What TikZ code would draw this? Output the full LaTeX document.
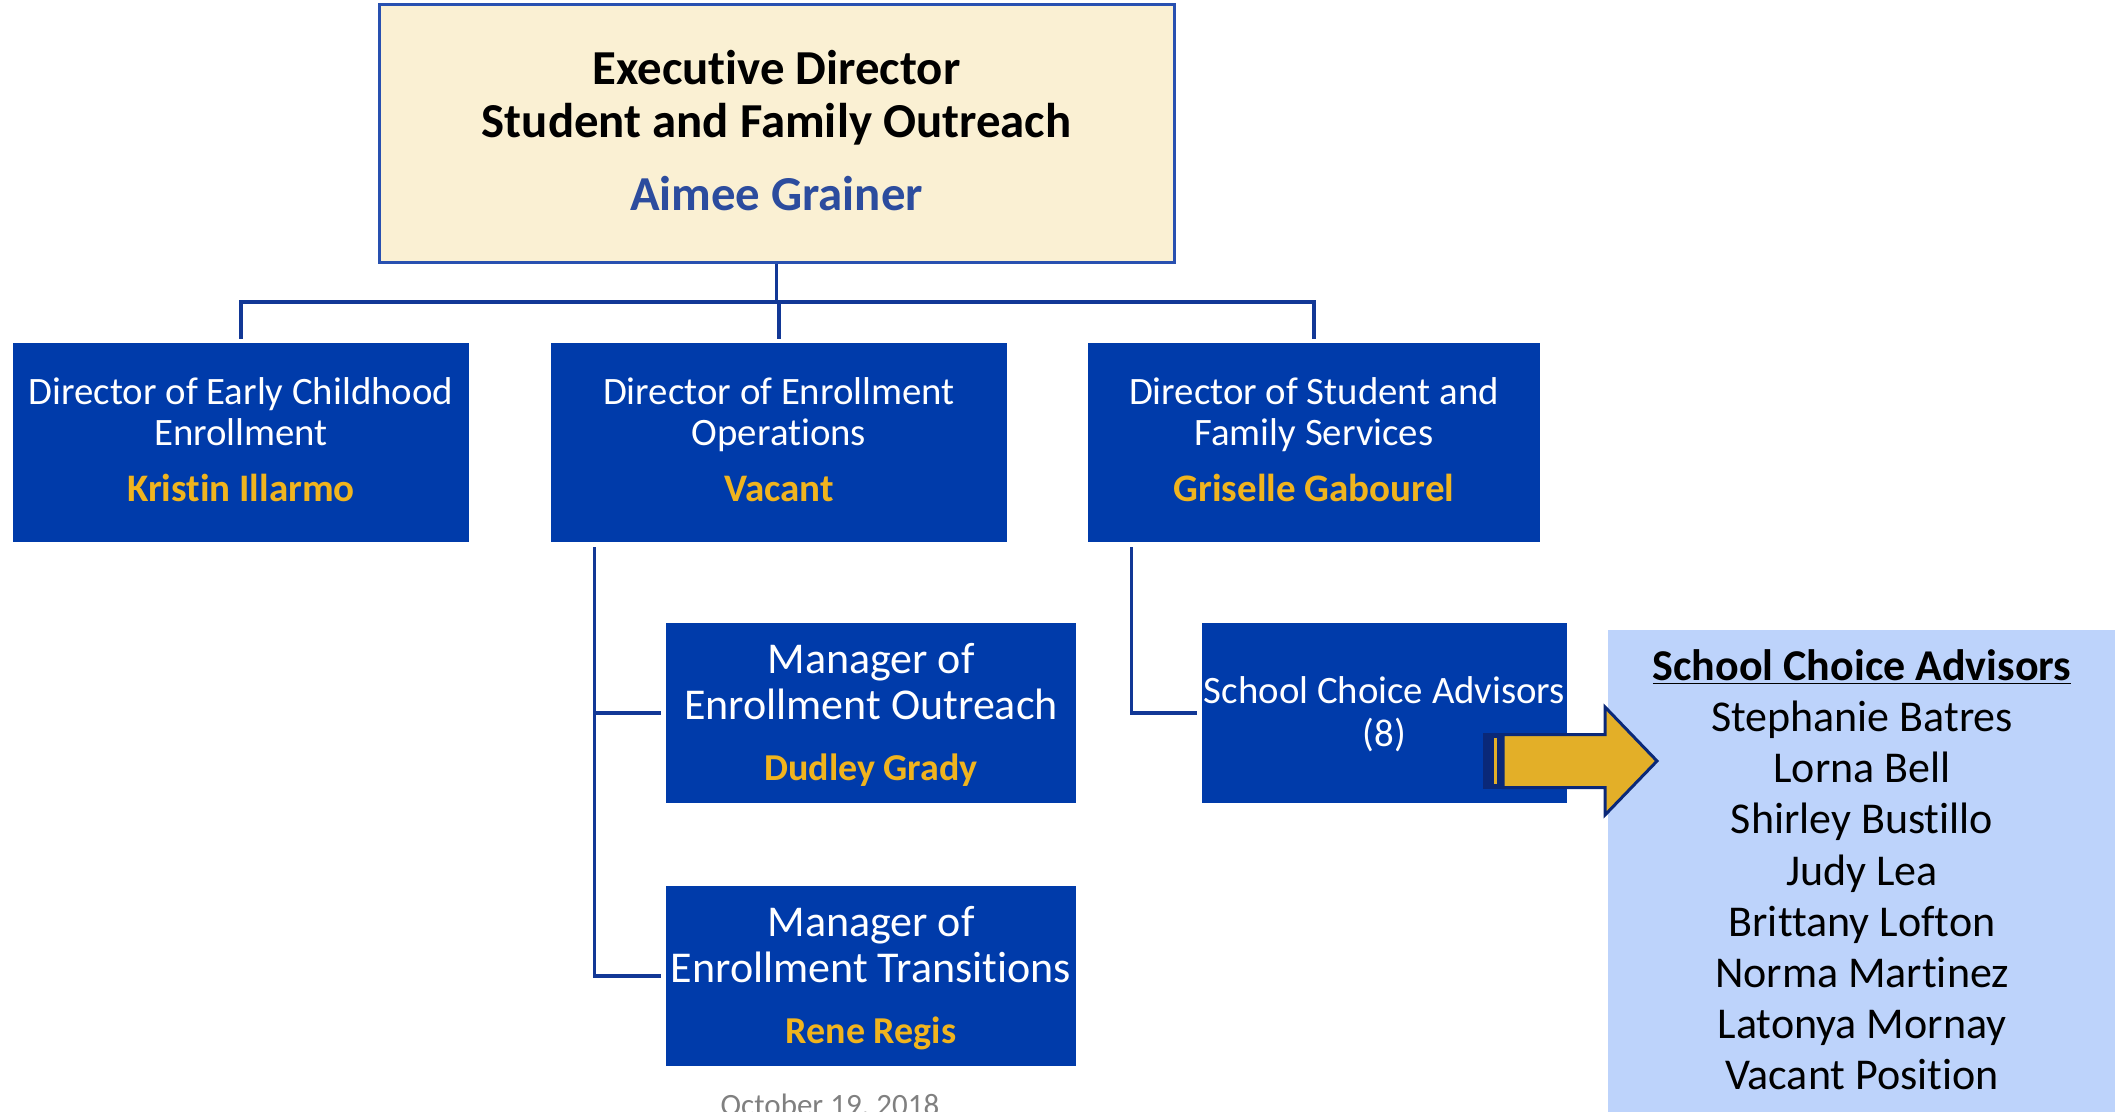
\documentclass[tikz,border=0pt]{standalone}
\usepackage{fontspec}
\setmainfont{Carlito}[Ligatures=NoCommon]
\definecolor{dirblue}{RGB}{0,59,170}
\definecolor{namegold}{RGB}{240,180,30}
\definecolor{cream}{RGB}{250,240,211}
\definecolor{framblue}{RGB}{40,80,176}
\definecolor{execname}{RGB}{44,76,158}
\definecolor{connblue}{RGB}{18,56,150}
\definecolor{listblue}{RGB}{189,211,251}
\definecolor{arrowgold}{RGB}{227,175,40}
\definecolor{arrownavy}{RGB}{10,40,120}
\definecolor{dategray}{RGB}{128,128,128}
\begin{document}
\begin{tikzpicture}[x=0.5pt,y=-0.5pt,
  box/.style={draw=none,fill=dirblue,inner sep=0pt},
  conn/.style={draw=connblue,line width=1.8pt},
  lbl/.style={anchor=base,inner sep=0pt},
  exectxt/.style={lbl,font=\fontsize{24.4}{28}\selectfont\bfseries},
  dirtxt/.style={lbl,text=white,font=\fontsize{19.4}{23}\selectfont},
  dirname/.style={lbl,text=namegold,font=\fontsize{19.5}{23}\selectfont\bfseries},
  mgrtxt/.style={lbl,text=white,font=\fontsize{22}{26}\selectfont},
  mgrname/.style={lbl,text=namegold,font=\fontsize{19}{23}\selectfont\bfseries},
  listtxt/.style={lbl,text=black,font=\fontsize{22}{26}\selectfont}]
\useasboundingbox (0,0) rectangle (2115,1112);

% boxes
\node[draw=framblue,line width=1.5pt,fill=cream,minimum width=397.5pt,minimum height=129pt,inner sep=0pt] (top) at (776.5,134) {};
\node[box,minimum width=228pt,minimum height=99.5pt] (d1) at (241,442.5) {};
\node[box,minimum width=228pt,minimum height=99.5pt] (d2) at (779,442.5) {};
\node[box,minimum width=226pt,minimum height=99.5pt] (d3) at (1314,442.5) {};
\node[box,minimum width=205pt,minimum height=90pt] (m1) at (871,713) {};
\node[box,minimum width=205pt,minimum height=90pt] (m2) at (871,976) {};
\node[box,minimum width=182.5pt,minimum height=90pt] (sca) at (1384.5,713) {};
\node[draw=none,fill=listblue,minimum width=253.5pt,minimum height=241pt,inner sep=0pt] (list) at (1861.5,871) {};

% connectors
\coordinate (bus) at (776.5,302);
\draw[conn] (top.south) -- (bus);
\draw[conn] ([yshift=2pt]d1.north) |- (bus) -| ([yshift=2pt]d3.north);
\draw[conn] ([yshift=2pt]d2.north) -- (d2.north |- bus);
\coordinate (v1) at ([xshift=22pt,yshift=-2.5pt]d2.south west);
\draw[conn] (v1) |- ([xshift=-2.5pt]m2.west);
\draw[conn] (v1 |- m1.west) -- ([xshift=-2.5pt]m1.west);
\coordinate (v2) at ([xshift=22pt,yshift=-2.5pt]d3.south west);
\draw[conn] (v2) |- ([xshift=-2.5pt]sca.west);

% texts top
\node[exectxt] (e1) at (776.5,85) {Executive Director};
\node[exectxt] (e2) at (776.5,137.5) {Student and Family Outreach};
\node[exectxt,text=execname] (e3) at (776.5,211) {Aimee Grainer};

% directors
\node[dirtxt] (d1a) at (241,405) {Director of Early Childhood};
\node[dirtxt] (d1b) at (241,446) {Enrollment};
\node[dirname] (d1n) at (241,502) {Kristin Illarmo};
\node[dirtxt] (d2a) at (779,405) {Director of Enrollment};
\node[dirtxt] (d2b) at (779,446) {Operations};
\node[dirname] (d2n) at (779,502) {Vacant};
\node[dirtxt] (d3a) at (1314,405) {Director of Student and};
\node[dirtxt] (d3b) at (1314,446) {Family Services};
\node[dirname] (d3n) at (1314,502) {Griselle Gabourel};

% managers
\node[mgrtxt] (m1a) at (871,673) {Manager of};
\node[mgrtxt] (m1b) at (871,719) {Enrollment Outreach};
\node[mgrname] (m1n) at (871,780) {Dudley Grady};
\node[mgrtxt] (m2a) at (871,936) {Manager of};
\node[mgrtxt] (m2b) at (871,982) {Enrollment Transitions};
\node[mgrname] (m2n) at (871,1043) {Rene Regis};

% school choice advisors
\node[dirtxt] (sa) at (1384.5,703) {School Choice Advisors};
\node[dirtxt] (sb) at (1384.5,746) {(8)};

% arrow
\fill[arrownavy] (1483,733) rectangle (1504,789);
\fill[arrowgold] (1494.3,738) rectangle (1496.5,784);
\draw[draw=arrownavy,fill=arrowgold,line width=1.5pt,line join=miter]
  (1503,734.5) -- (1605,734.5) -- (1605,707) -- (1657,761) -- (1605,815) -- (1605,787.5) -- (1503,787.5) -- cycle;

% list
\node[listtxt,font=\fontsize{22}{26}\selectfont\bfseries] (lt) at (1862,680) {\underline{School Choice Advisors}};
\node[listtxt] (l1) at (1862,731) {Stephanie Batres};
\node[listtxt] (l2) at (1862,782) {Lorna Bell};
\node[listtxt] (l3) at (1862,833) {Shirley Bustillo};
\node[listtxt] (l4) at (1862,885) {Judy Lea};
\node[listtxt] (l5) at (1862,936) {Brittany Lofton};
\node[listtxt] (l6) at (1862,987) {Norma Martinez};
\node[listtxt] (l7) at (1862,1038) {Latonya Mornay};
\node[listtxt] (l8) at (1862,1089) {Vacant Position};

% date
\node[lbl,text=dategray,font=\fontsize{15.5}{18}\selectfont] (date) at (830,1115) {October 19, 2018};
\end{tikzpicture}
\end{document}
